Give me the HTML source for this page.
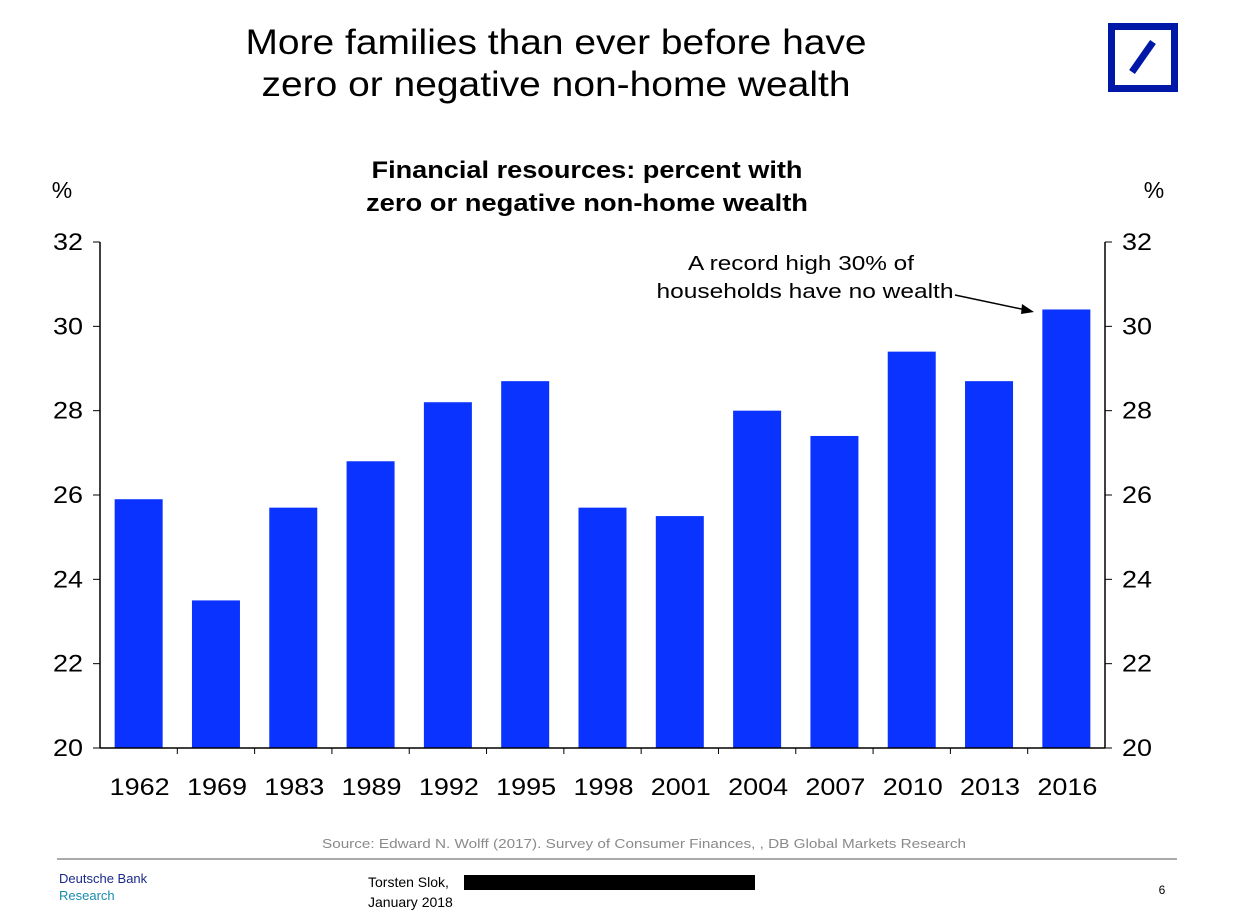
<!DOCTYPE html>
<html><head><meta charset="utf-8"><style>
body{margin:0;background:#fff;font-family:"Liberation Sans",sans-serif;}
#wrap{position:relative;width:1240px;height:912px;overflow:hidden;}
</style></head><body><div id="wrap">
<svg id="chart" width="1240" height="912" xmlns="http://www.w3.org/2000/svg" font-family="Liberation Sans, sans-serif">
<text x="556" y="54" font-size="35" text-anchor="middle" textLength="621" lengthAdjust="spacingAndGlyphs" fill="#000">More families than ever before have</text>
<text x="556" y="96" font-size="35" text-anchor="middle" textLength="589" lengthAdjust="spacingAndGlyphs" fill="#000">zero or negative non-home wealth</text>
<g>
<rect x="1111.5" y="26.5" width="63" height="62" fill="none" stroke="#0018A8" stroke-width="7"/>
<line x1="1132" y1="72" x2="1153" y2="42" stroke="#0018A8" stroke-width="7"/>
</g>
<text x="587" y="178" font-size="24" font-weight="bold" text-anchor="middle" textLength="431" lengthAdjust="spacingAndGlyphs">Financial resources: percent with</text>
<text x="587" y="211" font-size="24" font-weight="bold" text-anchor="middle" textLength="442" lengthAdjust="spacingAndGlyphs">zero or negative non-home wealth</text>
<text x="62" y="198" font-size="23" text-anchor="middle">%</text>
<text x="1154" y="198" font-size="23" text-anchor="middle">%</text>
<g id="bars"></g><g id="axes"></g>
<text x="801" y="270" font-size="20" text-anchor="middle" textLength="226" lengthAdjust="spacingAndGlyphs">A record high 30% of</text>
<text x="805" y="298" font-size="20" text-anchor="middle" textLength="297" lengthAdjust="spacingAndGlyphs">households have no wealth</text>
<line x1="955" y1="295" x2="1026" y2="310" stroke="#000" stroke-width="1.5"/>
<polygon points="1034,312 1022,304 1021,314" fill="#000"/>
<text x="644" y="848" font-size="13" fill="#8a8a8a" text-anchor="middle" textLength="644" lengthAdjust="spacingAndGlyphs">Source: Edward N. Wolff (2017). Survey of Consumer Finances, , DB Global Markets Research</text>
<line x1="57" y1="859" x2="1177" y2="859" stroke="#aaa" stroke-width="2"/>
<text x="59" y="883" font-size="13" fill="#1a2a8a">Deutsche Bank</text>
<text x="59" y="900" font-size="13" fill="#1a8ab0">Research</text>
<text x="368" y="887" font-size="14">Torsten Slok,</text>
<rect x="464" y="875" width="291" height="15" fill="#000"/>
<text x="368" y="907" font-size="14">January 2018</text>
<text x="1162" y="894" font-size="12" text-anchor="middle">6</text>
</svg>
<script>
const categories=["1962","1969","1983","1989","1992","1995","1998","2001","2004","2007","2010","2013","2016"];
const values=[25.9,23.5,25.7,26.8,28.2,28.7,25.7,25.5,28.0,27.4,29.4,28.7,30.4];
const yTicks=[20,22,24,26,28,30,32];
const NS="http://www.w3.org/2000/svg";
const X0=100,X1=1105,Y0=748,Y1=242,YMIN=20,YMAX=32;
const step=(X1-X0)/categories.length;
function y(v){return Y0-(v-YMIN)/(YMAX-YMIN)*(Y0-Y1);}
function xc(i){return X0+step*(i+0.5);}
function mk(tag,attrs,parent){const e=document.createElementNS(NS,tag);for(const k in attrs)e.setAttribute(k,attrs[k]);parent.appendChild(e);return e;}
const bars=document.getElementById('bars'),axes=document.getElementById('axes');
values.forEach((v,i)=>{
 const r=mk('rect',{x:xc(i)-24,y:y(v),width:48,height:Y0-y(v),fill:'#0A33FF'},bars);
 
 
 const t=mk('text',{x:xc(i)+1,y:795,'font-size':24,'text-anchor':'middle',textLength:60,lengthAdjust:'spacingAndGlyphs'},axes);
 t.textContent=categories[i];
 
 
 if(i>0){const tk=mk('line',{x1:X0+step*i,x2:X0+step*i,y1:Y0,y2:Y0+6,stroke:'#000'},axes);
 
 }
});
const xa=mk('line',{x1:X0,x2:X1,y1:Y0,y2:Y0,stroke:'#000','stroke-width':1.5},axes);


[[X0,-1],[X1,1]].forEach(([ax,d])=>{
 const l=mk('line',{x1:ax,x2:ax,y1:Y1,y2:Y0,stroke:'#000','stroke-width':1.5},axes);
 
 
 yTicks.forEach(v=>{
  const tk=mk('line',{x1:ax,x2:ax+d*7,y1:y(v),y2:y(v),stroke:'#000'},axes);
  
  
  const t=mk('text',{x:d<0?ax-17:ax+17,y:y(v)+8,'font-size':24,'text-anchor':d<0?'end':'start',textLength:30,lengthAdjust:'spacingAndGlyphs'},axes);
  t.textContent=v;
  
  
 });
});
</script>
</div></body></html>
